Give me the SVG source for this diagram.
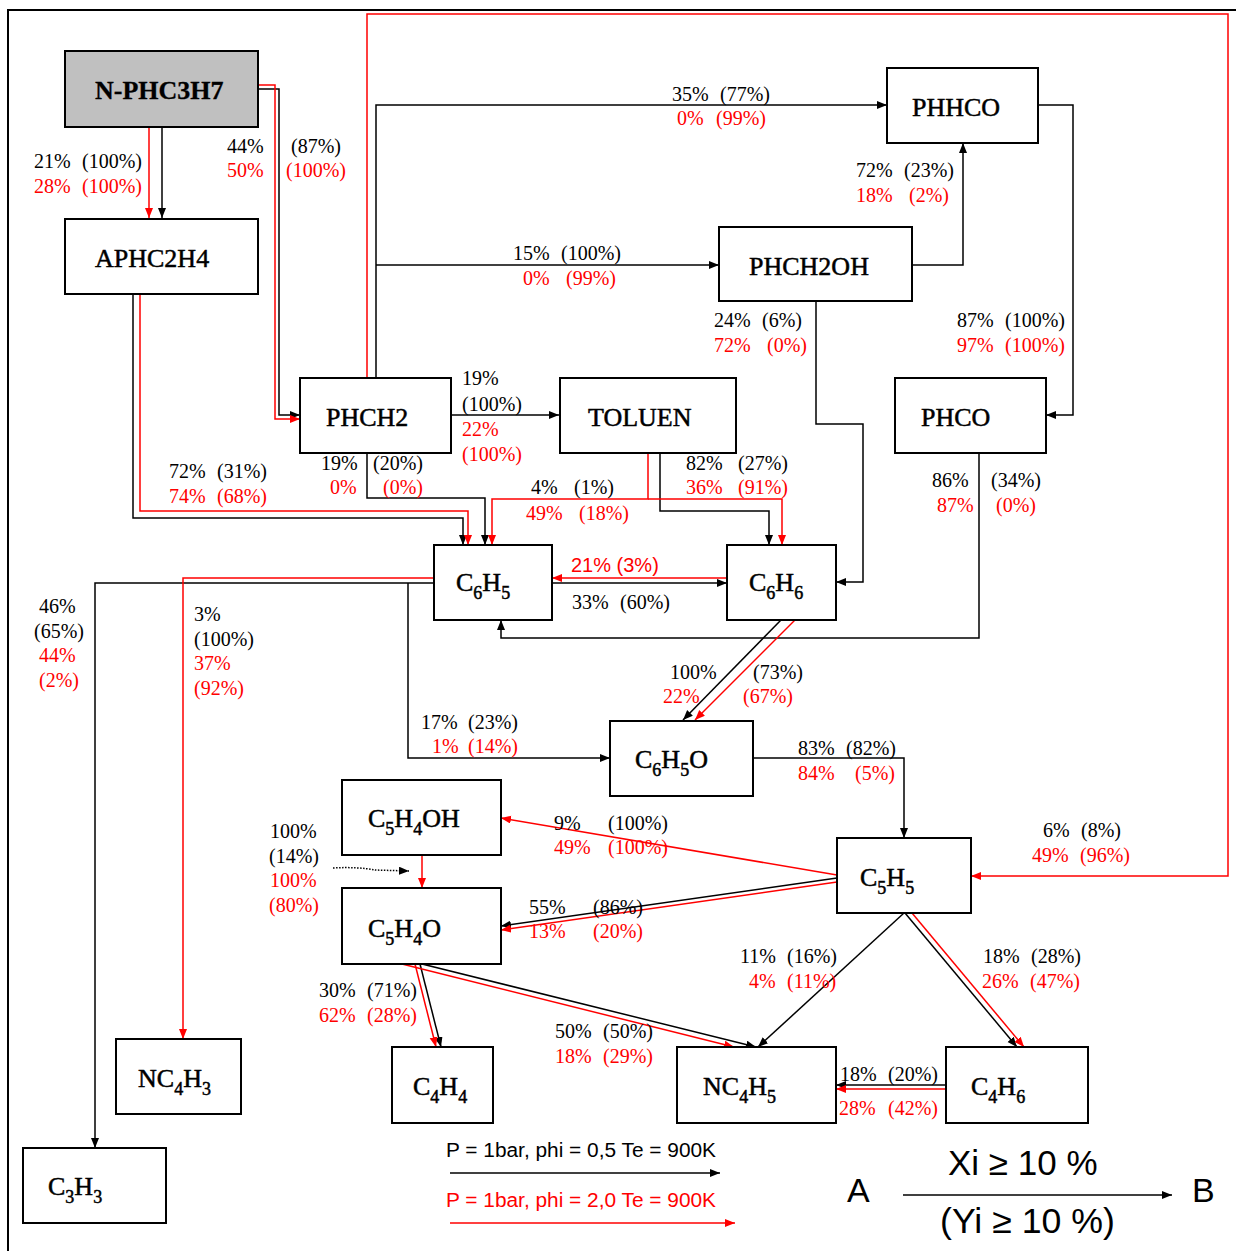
<svg xmlns="http://www.w3.org/2000/svg" width="1236" height="1251" viewBox="0 0 1236 1251">
<style>
.box{fill:#fff;stroke:#000;stroke-width:2}
.k{fill:none;stroke:#000;stroke-width:1.5;marker-end:url(#ak)}
.r{fill:none;stroke:#f00;stroke-width:1.5;marker-end:url(#ar)}
.n{font-family:"Liberation Serif","Times New Roman",serif;font-size:26px;fill:#000;stroke:#000;stroke-width:0.5}
.s{font-size:18px}
.t{font-family:"Liberation Serif","Times New Roman",serif;font-size:20px;fill:#000}
.rt{fill:#f00}
.a{font-family:"Liberation Sans",Arial,sans-serif}
</style>
<defs>
<marker id="ak" markerUnits="userSpaceOnUse" markerWidth="11" markerHeight="9" refX="10" refY="4" orient="auto"><path d="M0,0 L10,4 L0,8 z" fill="#000"/></marker>
<marker id="ar" markerUnits="userSpaceOnUse" markerWidth="11" markerHeight="9" refX="10" refY="4" orient="auto"><path d="M0,0 L10,4 L0,8 z" fill="#f00"/></marker>
</defs>
<rect x="0" y="0" width="1236" height="1251" fill="#fff"/>
<rect x="8" y="10" width="1240" height="1250" fill="none" stroke="#000" stroke-width="2"/>

<g id="connectors">
<path class="k" d="M162,127 V218"/>
<path class="k" d="M258,89 H279 V415 H300"/>
<path class="k" d="M376,378 V105 H887"/>
<path class="k" d="M376,265 H719"/>
<path class="k" d="M451,415 H559"/>
<path class="k" d="M367,453 V498 H485 V545"/>
<path class="k" d="M133,294 V518 H463 V545"/>
<path class="k" d="M660,453 V511 H769 V545"/>
<path class="k" d="M552,583 H727"/>
<path class="k" d="M816,301 V424 H863 V582 H836"/>
<path class="k" d="M912,265 H963 V143"/>
<path class="k" d="M1038,105 H1073 V415 H1046"/>
<path class="k" d="M979,453 V638 H501 V620"/>
<path class="k" d="M434,583 H95 V1148"/>
<path class="k" d="M408,583 V758 H610"/>
<path class="k" d="M781,620 L683,720"/>
<path class="k" d="M753,758 H904 V838"/>
<path class="k" d="M837,878 L501,926"/>
<path class="k" d="M420,964 L441,1047"/>
<path class="k" d="M422,964 L756,1047"/>
<path class="k" d="M904,913 L758,1047"/>
<path class="k" d="M905,913 L1017,1047"/>
<path class="k" d="M946,1085 H836"/>
<path class="k" d="M333,868 C350,867 365,868 375,870 L409,871" stroke-dasharray="1.5,1.5" stroke-width="1"/>

<path class="r" d="M149,127 V218"/>
<path class="r" d="M258,85 H275 V419 H300"/>
<path class="r" d="M367,378 V14 H1228 V876 H971"/>
<path class="r" d="M140,294 V511 H468 V545"/>
<path class="r" d="M648,453 V499 H492 V545"/>
<path class="r" d="M648,499 H782 V545"/>
<path class="r" d="M727,578 H552"/>
<path class="r" d="M434,578 H183 V1039"/>
<path class="r" d="M795,620 L695,720"/>
<path class="r" d="M837,875 L501,818"/>
<path class="r" d="M837,882 L501,930"/>
<path class="r" d="M422,855 V888"/>
<path class="r" d="M415,964 L436,1047"/>
<path class="r" d="M402,964 L734,1047"/>
<path class="r" d="M912,913 L1024,1047"/>
<path class="r" d="M946,1089 H836"/>
</g>

<g id="n-phc3h7"><rect class="box" x="65" y="51" width="193" height="76" style="fill:#c0c0c0"/><text class="n" x="95" y="99" font-weight="bold" style="stroke-width:0.3">N-PHC3H7</text></g>
<g id="aphc2h4"><rect class="box" x="65" y="219" width="193" height="75"/><text class="n" x="95" y="267">APHC2H4</text></g>
<g id="phhco"><rect class="box" x="887" y="68" width="151" height="75"/><text class="n" x="912" y="116">PHHCO</text></g>
<g id="phch2oh"><rect class="box" x="719" y="227" width="193" height="74"/><text class="n" x="749" y="275">PHCH2OH</text></g>
<g id="phch2"><rect class="box" x="300" y="378" width="151" height="75"/><text class="n" x="326" y="426">PHCH2</text></g>
<g id="toluen"><rect class="box" x="560" y="378" width="176" height="75"/><text class="n" x="588" y="426">TOLUEN</text></g>
<g id="phco"><rect class="box" x="895" y="378" width="151" height="75"/><text class="n" x="921" y="426">PHCO</text></g>
<g id="c6h5"><rect class="box" x="434" y="545" width="118" height="75"/><text class="n" x="456" y="591">C<tspan class="s" dy="8">6</tspan><tspan dy="-8">H</tspan><tspan class="s" dy="8">5</tspan></text></g>
<g id="c6h6"><rect class="box" x="727" y="545" width="109" height="75"/><text class="n" x="749" y="591">C<tspan class="s" dy="8">6</tspan><tspan dy="-8">H</tspan><tspan class="s" dy="8">6</tspan></text></g>
<g id="c6h5o"><rect class="box" x="610" y="721" width="143" height="75"/><text class="n" x="635" y="768">C<tspan class="s" dy="8">6</tspan><tspan dy="-8">H</tspan><tspan class="s" dy="8">5</tspan><tspan dy="-8">O</tspan></text></g>
<g id="c5h4oh"><rect class="box" x="342" y="780" width="159" height="75"/><text class="n" x="368" y="827">C<tspan class="s" dy="8">5</tspan><tspan dy="-8">H</tspan><tspan class="s" dy="8">4</tspan><tspan dy="-8">OH</tspan></text></g>
<g id="c5h5"><rect class="box" x="837" y="838" width="134" height="75"/><text class="n" x="860" y="886">C<tspan class="s" dy="8">5</tspan><tspan dy="-8">H</tspan><tspan class="s" dy="8">5</tspan></text></g>
<g id="c5h4o"><rect class="box" x="342" y="888" width="159" height="76"/><text class="n" x="368" y="937">C<tspan class="s" dy="8">5</tspan><tspan dy="-8">H</tspan><tspan class="s" dy="8">4</tspan><tspan dy="-8">O</tspan></text></g>
<g id="nc4h3"><rect class="box" x="116" y="1039" width="125" height="75"/><text class="n" x="138" y="1087">NC<tspan class="s" dy="8">4</tspan><tspan dy="-8">H</tspan><tspan class="s" dy="8">3</tspan></text></g>
<g id="c4h4"><rect class="box" x="392" y="1047" width="101" height="76"/><text class="n" x="413" y="1095">C<tspan class="s" dy="8">4</tspan><tspan dy="-8">H</tspan><tspan class="s" dy="8">4</tspan></text></g>
<g id="nc4h5"><rect class="box" x="677" y="1047" width="159" height="76"/><text class="n" x="703" y="1095">NC<tspan class="s" dy="8">4</tspan><tspan dy="-8">H</tspan><tspan class="s" dy="8">5</tspan></text></g>
<g id="c4h6"><rect class="box" x="946" y="1047" width="142" height="76"/><text class="n" x="971" y="1095">C<tspan class="s" dy="8">4</tspan><tspan dy="-8">H</tspan><tspan class="s" dy="8">6</tspan></text></g>
<g id="c3h3"><rect class="box" x="23" y="1148" width="143" height="75"/><text class="n" x="48" y="1195">C<tspan class="s" dy="8">3</tspan><tspan dy="-8">H</tspan><tspan class="s" dy="8">3</tspan></text></g>

<g id="labels" class="t">
<text x="34" y="168">21%</text><text x="82" y="168">(100%)</text>
<text class="rt" x="34" y="193">28%</text><text class="rt" x="82" y="193">(100%)</text>
<text x="227" y="153">44%</text><text x="291" y="153">(87%)</text>
<text class="rt" x="227" y="177">50%</text><text class="rt" x="286" y="177">(100%)</text>
<text x="672" y="101">35%</text><text x="720" y="101">(77%)</text>
<text class="rt" x="677" y="125">0%</text><text class="rt" x="716" y="125">(99%)</text>
<text x="513" y="260">15%</text><text x="561" y="260">(100%)</text>
<text class="rt" x="523" y="285">0%</text><text class="rt" x="566" y="285">(99%)</text>
<text x="856" y="177">72%</text><text x="904" y="177">(23%)</text>
<text class="rt" x="856" y="202">18%</text><text class="rt" x="909" y="202">(2%)</text>
<text x="714" y="327">24%</text><text x="762" y="327">(6%)</text>
<text class="rt" x="714" y="352">72%</text><text class="rt" x="767" y="352">(0%)</text>
<text x="957" y="327">87%</text><text x="1005" y="327">(100%)</text>
<text class="rt" x="957" y="352">97%</text><text class="rt" x="1005" y="352">(100%)</text>
<text x="462" y="385">19%</text><text x="462" y="411">(100%)</text>
<text class="rt" x="462" y="436">22%</text><text class="rt" x="462" y="461">(100%)</text>
<text x="321" y="470">19%</text><text x="373" y="470">(20%)</text>
<text class="rt" x="330" y="494">0%</text><text class="rt" x="383" y="494">(0%)</text>
<text x="169" y="478">72%</text><text x="217" y="478">(31%)</text>
<text class="rt" x="169" y="503">74%</text><text class="rt" x="217" y="503">(68%)</text>
<text x="531" y="494">4%</text><text x="574" y="494">(1%)</text>
<text class="rt" x="526" y="520">49%</text><text class="rt" x="579" y="520">(18%)</text>
<text x="686" y="470">82%</text><text x="738" y="470">(27%)</text>
<text class="rt" x="686" y="494">36%</text><text class="rt" x="738" y="494">(91%)</text>
<text class="rt a" x="571" y="572">21% (3%)</text>
<text x="572" y="609">33%</text><text x="620" y="609">(60%)</text>
<text x="932" y="487">86%</text><text x="991" y="487">(34%)</text>
<text class="rt" x="937" y="512">87%</text><text class="rt" x="996" y="512">(0%)</text>
<text x="39" y="613">46%</text><text x="34" y="638">(65%)</text>
<text class="rt" x="39" y="662">44%</text><text class="rt" x="39" y="687">(2%)</text>
<text x="194" y="621">3%</text><text x="194" y="646">(100%)</text>
<text class="rt" x="194" y="670">37%</text><text class="rt" x="194" y="695">(92%)</text>
<text x="670" y="679">100%</text><text x="753" y="679">(73%)</text>
<text class="rt" x="663" y="703">22%</text><text class="rt" x="743" y="703">(67%)</text>
<text x="421" y="729">17%</text><text x="468" y="729">(23%)</text>
<text class="rt" x="432" y="753">1%</text><text class="rt" x="468" y="753">(14%)</text>
<text x="798" y="755">83%</text><text x="846" y="755">(82%)</text>
<text class="rt" x="798" y="780">84%</text><text class="rt" x="855" y="780">(5%)</text>
<text x="554" y="830">9%</text><text x="608" y="830">(100%)</text>
<text class="rt" x="554" y="854">49%</text><text class="rt" x="608" y="854">(100%)</text>
<text x="270" y="838">100%</text><text x="269" y="863">(14%)</text>
<text class="rt" x="270" y="887">100%</text><text class="rt" x="269" y="912">(80%)</text>
<text x="529" y="914">55%</text><text x="593" y="914">(86%)</text>
<text class="rt" x="529" y="938">13%</text><text class="rt" x="593" y="938">(20%)</text>
<text x="319" y="997">30%</text><text x="367" y="997">(71%)</text>
<text class="rt" x="319" y="1022">62%</text><text class="rt" x="367" y="1022">(28%)</text>
<text x="555" y="1038">50%</text><text x="603" y="1038">(50%)</text>
<text class="rt" x="555" y="1063">18%</text><text class="rt" x="603" y="1063">(29%)</text>
<text x="1043" y="837">6%</text><text x="1081" y="837">(8%)</text>
<text class="rt" x="1032" y="862">49%</text><text class="rt" x="1080" y="862">(96%)</text>
<text x="740" y="963">11%</text><text x="787" y="963">(16%)</text>
<text class="rt" x="749" y="988">4%</text><text class="rt" x="787" y="988">(11%)</text>
<text x="983" y="963">18%</text><text x="1031" y="963">(28%)</text>
<text class="rt" x="982" y="988">26%</text><text class="rt" x="1030" y="988">(47%)</text>
<text x="840" y="1081">18%</text><text x="888" y="1081">(20%)</text>
<text class="rt" x="839" y="1115">28%</text><text class="rt" x="888" y="1115">(42%)</text>
</g>

<g id="legend">
<text class="a" x="446" y="1157" font-size="20" textLength="270" lengthAdjust="spacingAndGlyphs">P = 1bar, phi = 0,5 Te = 900K</text>
<path class="k" d="M450,1173 H720"/>
<text class="a" x="446" y="1207" font-size="20" fill="#f00" textLength="270" lengthAdjust="spacingAndGlyphs">P = 1bar, phi = 2,0 Te = 900K</text>
<path class="r" d="M450,1223 H735"/>
<text class="a" x="847" y="1202" font-size="34">A</text>
<text class="a" x="948" y="1175" font-size="35">Xi ≥ 10 %</text>
<path class="k" d="M903,1195 H1172"/>
<text class="a" x="940" y="1233" font-size="35" textLength="175" lengthAdjust="spacingAndGlyphs">(Yi ≥ 10 %)</text>
<text class="a" x="1192" y="1202" font-size="34">B</text>
</g>
</svg>
